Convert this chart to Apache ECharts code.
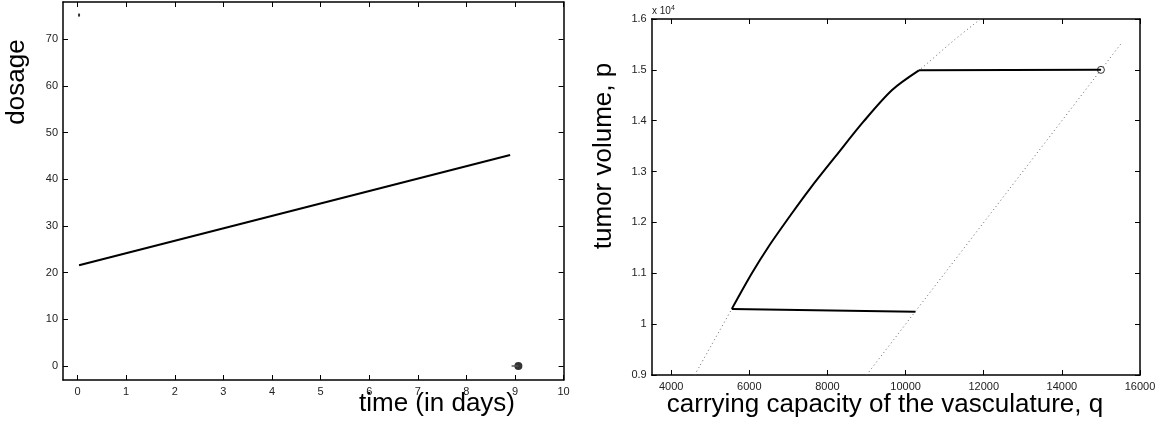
<!DOCTYPE html>
<html>
<head>
<meta charset="utf-8">
<script src="https://cdn.jsdelivr.net/npm/echarts@6/dist/echarts.min.js"></script>
<style>html,body{margin:0;padding:0;background:#fff}#c{width:1162px;height:423px}</style>
</head>
<body>
<div id="c"></div>
<script>
// ---- Left panel: dosage vs time ----
const timeTicks = [0,1,2,3,4,5,6,7,8,9,10];
const doseTicks = [0,10,20,30,40,50,60,70];
const doseTime = [0.03, 8.9];
const doseValue = [21.6, 45.2];
const startMarkTime = [0.03];
const startMarkDose = [75.2];
const endSegTime = [8.93, 9.07];
const endSegDose = [0, 0];
const endPointTime = [9.07];
const endPointDose = [0];

// ---- Right panel: tumor volume p vs carrying capacity q ----
const qTicks = [4000,6000,8000,10000,12000,14000,16000];
const pTicks = [9000,10000,11000,12000,13000,14000,15000,16000];
// trajectory pieces: top (horizontal), curved arc, bottom (near-horizontal)
const topQ = [15000, 10340];
const topP = [15000, 14990];
const arcQ = [5551, 6064, 6490, 7090, 7559, 8200, 8920, 9654, 10340];
const arcP = [10300, 11000, 11523, 12180, 12671, 13293, 13981, 14604, 14990];
const bottomQ = [5551, 10251];
const bottomP = [10300, 10245];
const boundLeftQ = [4600, 5551, 6064, 6490, 7090, 7559, 8200, 8920, 9654, 10340, 11245, 11918];
const boundLeftP = [9000, 10300, 11000, 11523, 12180, 12671, 13293, 13981, 14604, 14990, 15587, 16000];
const boundRightQ = [9000, 15520];
const boundRightP = [9000, 15520];
const startQ = [15000];
const startP = [15000];

const zip = (a, b) => a.map((v, i) => [v, b[i]]);
const FONT = "'Liberation Sans', Arial, Helvetica, sans-serif";
const axisLine = {show: true, onZero: false, lineStyle: {color: '#000', width: 1.5}};
const tickStyle = {inside: true, length: 5, lineStyle: {color: '#000', width: 1}};
const lbl = {color: '#222', fontSize: 11, fontFamily: FONT};
const plain = v => String(v);

function mainX(grid, min, max, ticks, fmt) {
  return {type: 'value', gridIndex: grid, position: 'bottom', min, max,
    axisLine, splitLine: {show: false},
    axisTick: Object.assign({customValues: ticks}, tickStyle),
    axisLabel: Object.assign({customValues: ticks, margin: 6, formatter: fmt}, lbl)};
}
function mirrorX(grid, min, max, ticks) {
  return {type: 'value', gridIndex: grid, position: 'top', min, max,
    axisLine, splitLine: {show: false},
    axisTick: Object.assign({customValues: ticks}, tickStyle),
    axisLabel: {show: false}};
}
function mainY(grid, min, max, ticks, fmt) {
  return {type: 'value', gridIndex: grid, position: 'left', min, max,
    axisLine, splitLine: {show: false},
    axisTick: Object.assign({customValues: ticks}, tickStyle),
    axisLabel: Object.assign({customValues: ticks, margin: 5, formatter: fmt}, lbl)};
}
function mirrorY(grid, min, max, ticks) {
  return {type: 'value', gridIndex: grid, position: 'right', min, max,
    axisLine, splitLine: {show: false},
    axisTick: Object.assign({customValues: ticks}, tickStyle),
    axisLabel: {show: false}};
}

const pFmt = v => String(parseFloat((v / 10000).toFixed(1)));
const dotted = {color: '#666', width: 1, type: [1, 3]};
const solid = {color: '#000', width: 2};

const chart = echarts.init(document.getElementById('c'), null, {renderer: 'canvas'});
chart.setOption({
  animation: false,
  backgroundColor: '#fff',
  textStyle: {fontFamily: FONT},
  grid: [
    {left: 63, top: 2, right: 598.4, bottom: 43},
    {left: 651.7, top: 19, right: 22, bottom: 48}
  ],
  xAxis: [
    mainX(0, -0.3, 10, timeTicks, plain),
    mirrorX(0, -0.3, 10, timeTicks),
    mainX(1, 3500, 16000, qTicks, plain),
    mirrorX(1, 3500, 16000, qTicks)
  ],
  yAxis: [
    mainY(0, -3, 78, doseTicks, plain),
    mirrorY(0, -3, 78, doseTicks),
    mainY(1, 9000, 16000, pTicks, pFmt),
    mirrorY(1, 9000, 16000, pTicks)
  ],
  series: [
    {type: 'line', xAxisIndex: 0, yAxisIndex: 0, data: zip(doseTime, doseValue),
      showSymbol: false, lineStyle: solid},
    {type: 'scatter', xAxisIndex: 0, yAxisIndex: 0, data: zip(startMarkTime, startMarkDose),
      symbol: 'rect', symbolSize: [2, 3], itemStyle: {color: '#000'}},
    {type: 'line', xAxisIndex: 0, yAxisIndex: 0, data: zip(endSegTime, endSegDose),
      showSymbol: false, lineStyle: {color: '#555', width: 1.5}},
    {type: 'scatter', xAxisIndex: 0, yAxisIndex: 0, data: zip(endPointTime, endPointDose),
      symbol: 'circle', symbolSize: 8, itemStyle: {color: '#000'}},

    {type: 'line', xAxisIndex: 2, yAxisIndex: 2, data: zip(boundLeftQ, boundLeftP),
      showSymbol: false, smooth: 0.3, lineStyle: dotted},
    {type: 'line', xAxisIndex: 2, yAxisIndex: 2, data: zip(boundRightQ, boundRightP),
      showSymbol: false, lineStyle: dotted},
    {type: 'line', xAxisIndex: 2, yAxisIndex: 2, data: zip(topQ, topP),
      showSymbol: false, lineStyle: solid},
    {type: 'line', xAxisIndex: 2, yAxisIndex: 2, data: zip(arcQ, arcP),
      showSymbol: false, smooth: 0.3, lineStyle: solid},
    {type: 'line', xAxisIndex: 2, yAxisIndex: 2, data: zip(bottomQ, bottomP),
      showSymbol: false, lineStyle: solid},
    {type: 'scatter', xAxisIndex: 2, yAxisIndex: 2, data: zip(startQ, startP),
      symbol: 'circle', symbolSize: 7,
      itemStyle: {color: 'rgba(255,255,255,0)', borderColor: '#000', borderWidth: 1}}
  ],
  graphic: [
    {type: 'text', x: 17, y: 82, rotation: Math.PI / 2,
      style: {text: 'dosage', font: '26px ' + FONT, fill: '#000', align: 'center', verticalAlign: 'middle'}},
    {type: 'text', x: 437, y: 404,
      style: {text: 'time (in days)', font: '26px ' + FONT, fill: '#000', align: 'center', verticalAlign: 'middle'}},
    {type: 'text', x: 604, y: 156, rotation: Math.PI / 2,
      style: {text: 'tumor volume, p', font: '26px ' + FONT, fill: '#000', align: 'center', verticalAlign: 'middle'}},
    {type: 'text', x: 885, y: 405,
      style: {text: 'carrying capacity of the vasculature, q', font: '26px ' + FONT, fill: '#000', align: 'center', verticalAlign: 'middle'}},
    {type: 'text', x: 652, y: 11,
      style: {text: '{b|x 10}{s|4}', fill: '#222', align: 'left', verticalAlign: 'middle',
        rich: {b: {fontSize: 10, fontFamily: FONT, fill: '#222'},
               s: {fontSize: 7, fontFamily: FONT, fill: '#222', verticalAlign: 'top', padding: [0,0,6,0]}}}}
  ]
});
</script>
</body>
</html>
